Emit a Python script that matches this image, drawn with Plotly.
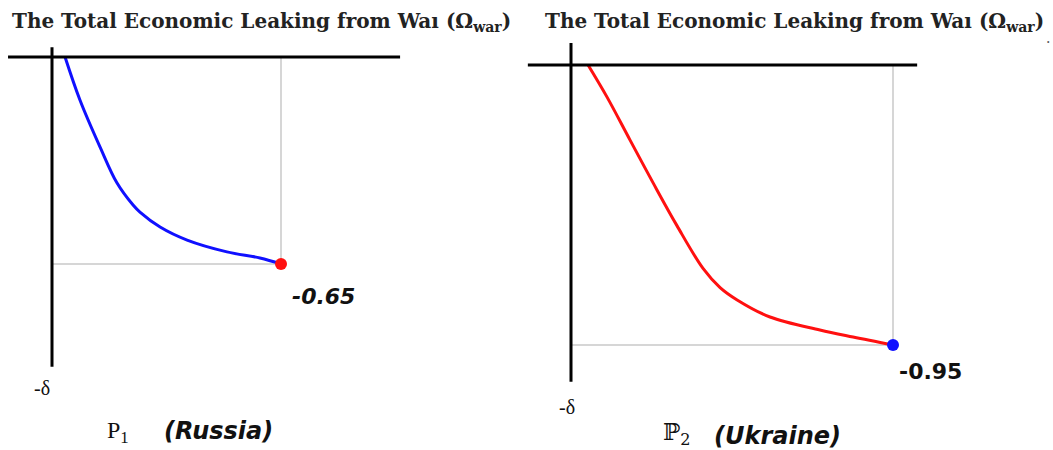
import plotly.graph_objects as go

W, H = 1053, 450

# ---- data ----
russia_x = [0.057, 0.122, 0.21, 0.284, 0.354, 0.384, 0.472, 0.59, 0.764, 0.908, 1.0]
russia_y = [0.0, -0.135, -0.283, -0.396, -0.465, -0.487, -0.534, -0.575, -0.612, -0.631, -0.65]
russia_end = -0.65

ukraine_x = [0.053, 0.112, 0.183, 0.255, 0.329, 0.41, 0.463, 0.516, 0.618, 0.773, 0.876, 1.0]
ukraine_y = [0.0, -0.109, -0.254, -0.400, -0.545, -0.690, -0.755, -0.797, -0.855, -0.899, -0.923, -0.95]
ukraine_end = -0.95

title_text = "The Total Economic Leaking from Waı (Ω<sub>war</sub>)"
labels = ["-0.65", "-0.95"]

# ---- layout anchors (pixels) ----
def ranges(x0px, x1px, y0px, y1px, yval):
    sx = (x1px - x0px)
    sy = (y1px - y0px) / abs(yval)
    xr = [-x0px / sx, (W - x0px) / sx]
    yr = [-(H - y0px) / sy, y0px / sy]
    return xr, yr

xr1, yr1 = ranges(52, 281, 57, 264, russia_end)
xr2, yr2 = ranges(571, 893, 65, 345, ukraine_end)

fig = go.Figure()

fig.add_trace(go.Scatter(x=russia_x, y=russia_y, mode="lines", line=dict(color="#1010ff", width=3, shape="spline", smoothing=1.0),
                         xaxis="x", yaxis="y", showlegend=False))
fig.add_trace(go.Scatter(x=[russia_x[-1]], y=[russia_y[-1]], mode="markers", marker=dict(color="#ff1010", size=12),
                         xaxis="x", yaxis="y", showlegend=False))
fig.add_trace(go.Scatter(x=ukraine_x, y=ukraine_y, mode="lines", line=dict(color="#ff1010", width=3, shape="spline", smoothing=1.0),
                         xaxis="x2", yaxis="y2", showlegend=False))
fig.add_trace(go.Scatter(x=[ukraine_x[-1]], y=[ukraine_y[-1]], mode="markers", marker=dict(color="#1010ff", size=12),
                         xaxis="x2", yaxis="y2", showlegend=False))

shapes = []
gray = "#c8c8c8"
shapes.append(dict(type="line", xref="x", yref="y", x0=1, x1=1, y0=0, y1=russia_end, line=dict(color=gray, width=1.5), layer="below"))
shapes.append(dict(type="line", xref="x", yref="y", x0=0, x1=1, y0=russia_end, y1=russia_end, line=dict(color=gray, width=1.5), layer="below"))
shapes.append(dict(type="line", xref="x2", yref="y2", x0=1, x1=1, y0=0, y1=ukraine_end, line=dict(color=gray, width=1.5), layer="below"))
shapes.append(dict(type="line", xref="x2", yref="y2", x0=0, x1=1, y0=ukraine_end, y1=ukraine_end, line=dict(color=gray, width=1.5), layer="below"))
shapes.append(dict(type="line", xref="x", yref="y", x0=-0.192, x1=1.52, y0=0, y1=0, line=dict(color="black", width=3)))
shapes.append(dict(type="line", xref="x", yref="y", x0=0, x1=0, y0=0.031, y1=-0.973, line=dict(color="black", width=3)))
shapes.append(dict(type="line", xref="x2", yref="y2", x0=-0.134, x1=1.075, y0=0, y1=0, line=dict(color="black", width=3)))
shapes.append(dict(type="line", xref="x2", yref="y2", x0=0, x1=0, y0=0.075, y1=-1.075, line=dict(color="black", width=3)))

def ann(text, xpx, ypx, size, family, color="#111", **kw):
    return dict(text=text, x=xpx / W, y=1 - ypx / H, xref="paper", yref="paper", showarrow=False,
                xanchor="center", yanchor="middle", font=dict(size=size, family=family, color=color), **kw)

serif = "DejaVu Serif"
sans = "DejaVu Sans"
annotations = [
    ann("<b>" + title_text + "</b>", 261, 22, 20, serif, color="#222"),
    ann("<b>" + title_text + "</b>", 794, 22, 20, serif, color="#222"),
    ann(".", 1048, 38, 14, serif, color="#555"),
    ann("<b><i>" + labels[0] + "</i></b>", 323, 296, 22, sans),
    ann("<b>" + labels[1] + "</b>", 930, 371, 22, sans),
    ann("-δ", 42, 388, 20, "Liberation Serif"),
    ann("-δ", 567, 407, 20, "Liberation Serif"),
    ann("P<sub>1</sub>", 118, 432, 24, "Liberation Serif"),
    ann("<b><i>(Russia)</i></b>", 218, 431, 24, sans),
    ann("ℙ<sub>2</sub>", 677, 434, 23, "DejaVu Serif"),
    ann("<b><i>(Ukraine)</i></b>", 777, 436, 24, sans),
]

ax_common = dict(visible=False, showgrid=False, zeroline=False, fixedrange=True, domain=[0, 1])
fig.update_layout(
    width=W, height=H,
    margin=dict(l=0, r=0, t=0, b=0),
    paper_bgcolor="white", plot_bgcolor="white",
    xaxis=dict(range=xr1, **ax_common),
    yaxis=dict(range=yr1, **ax_common),
    xaxis2=dict(range=xr2, overlaying="x", **ax_common),
    yaxis2=dict(range=yr2, overlaying="y", **ax_common),
    shapes=shapes,
    annotations=annotations,
    showlegend=False,
)

fig.write_html("out.html", config={"displayModeBar": False},
               post_script="document.body.style.margin='0';document.body.style.overflow='hidden';")
